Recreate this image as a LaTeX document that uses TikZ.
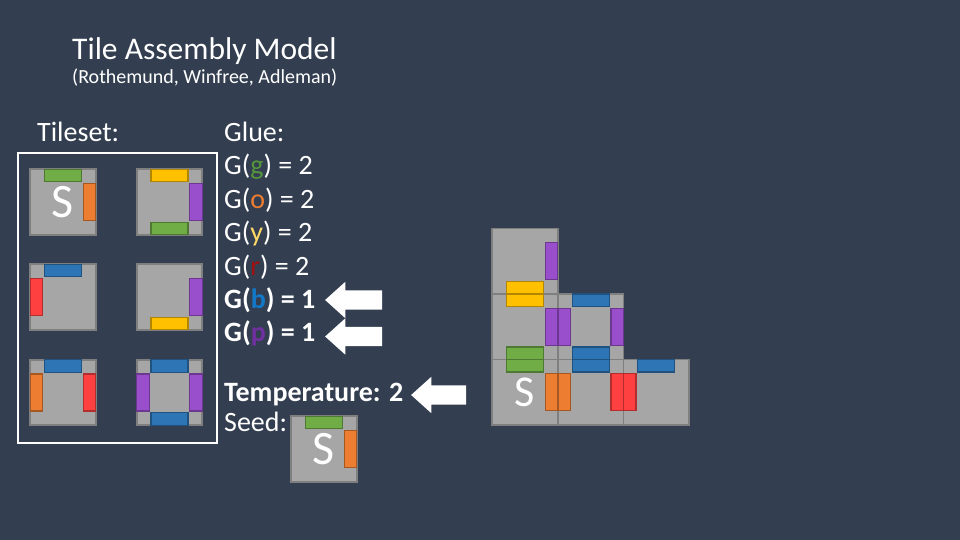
\documentclass[tikz,border=0pt]{standalone}
\usepackage{fontspec}
\setmainfont{Carlito}
\usetikzlibrary{shapes.arrows}
\definecolor{slatebg}{RGB}{51,63,80}
\definecolor{tilegray}{RGB}{166,166,166}
\definecolor{tileedge}{RGB}{127,127,127}
\definecolor{gluegreen}{RGB}{112,173,71}
\definecolor{glueorange}{RGB}{237,125,49}
\definecolor{glueyellow}{RGB}{255,192,0}
\definecolor{gluered}{RGB}{255,64,64}
\definecolor{glueblue}{RGB}{46,117,182}
\definecolor{gluepurple}{RGB}{153,79,204}
\definecolor{txtgreen}{RGB}{84,150,60}
\definecolor{txtorange}{RGB}{237,125,49}
\definecolor{txtyellow}{RGB}{255,217,102}
\definecolor{txtred}{RGB}{160,16,16}
\definecolor{txtblue}{RGB}{20,120,200}
\definecolor{txtpurple}{RGB}{112,48,160}
\begin{document}
\begin{tikzpicture}[x=1pt,y=-1pt,
  tile/.style={draw=tileedge,fill=tilegray,line width=1.8pt,minimum size=65.5pt,inner sep=0pt,outer sep=0pt,text=white,font=\fontsize{48}{48}\selectfont},
  glue/.style={draw=#1!70!black,fill=#1,line width=1.2pt,inner sep=0pt,outer sep=0pt},
  glueN/.style={glue=#1,minimum width=37pt,minimum height=12.5pt,anchor=north},
  glueS/.style={glue=#1,minimum width=37pt,minimum height=12.5pt,anchor=south},
  glueE/.style={glue=#1,minimum width=12.5pt,minimum height=37pt,anchor=east},
  glueW/.style={glue=#1,minimum width=12.5pt,minimum height=37pt,anchor=west},
  txt/.style={anchor=base west,inner sep=0pt,text=white,font=\fontsize{28}{33}\selectfont},
  hint/.style={single arrow,shape border rotate=180,fill=white,draw=none,minimum width=36pt,inner sep=9.5pt,single arrow head extend=8.5pt,single arrow tip angle=84}]
  \useasboundingbox[fill=slatebg] (0,0) rectangle (960,540);
  % Heading
  \node[txt,font=\fontsize{31.5}{37}\selectfont] (title) at (72,60) {Tile Assembly Model};
  \node[txt,font=\fontsize{20}{24}\selectfont] (authors) at (72,84) {(Rothemund, Winfree, Adleman)};
  % Tileset
  \node[txt] (tilesetlbl) at (37,142) {Tileset:};
  \node[draw=white,line width=1.5pt,minimum width=199pt,minimum height=290pt,inner sep=0pt] (tilesetbox) at (117.5,298) {};
  \node[tile] (ts1) at (63,202) {S};
  \node[tile] (ts2) at (169.5,202) {};
  \node[tile] (ts3) at (63,297) {};
  \node[tile] (ts4) at (169.5,297) {};
  \node[tile] (ts5) at (63,392.5) {};
  \node[tile] (ts6) at (169.5,392.5) {};
  \node[glueN=gluegreen] (ts1n) at (ts1.north) {};
  \node[glueE=glueorange] (ts1e) at (ts1.east) {};
  \node[glueN=glueyellow] (ts2n) at (ts2.north) {};
  \node[glueE=gluepurple] (ts2e) at (ts2.east) {};
  \node[glueS=gluegreen] (ts2s) at (ts2.south) {};
  \node[glueN=glueblue] (ts3n) at (ts3.north) {};
  \node[glueW=gluered] (ts3w) at (ts3.west) {};
  \node[glueE=gluepurple] (ts4e) at (ts4.east) {};
  \node[glueS=glueyellow] (ts4s) at (ts4.south) {};
  \node[glueN=glueblue] (ts5n) at (ts5.north) {};
  \node[glueW=glueorange] (ts5w) at (ts5.west) {};
  \node[glueE=gluered] (ts5e) at (ts5.east) {};
  \node[glueN=glueblue] (ts6n) at (ts6.north) {};
  \node[glueW=gluepurple] (ts6w) at (ts6.west) {};
  \node[glueE=gluepurple] (ts6e) at (ts6.east) {};
  \node[glueS=glueblue] (ts6s) at (ts6.south) {};
  % Glue strengths
  \node[txt] (gluelbl) at (224,141.7) {Glue:};
  \node[txt] (gg) at (224,175) {G(\textcolor{txtgreen}{g}) = 2};
  \node[txt] (go) at (224,208.3) {G(\textcolor{txtorange}{o}) = 2};
  \node[txt] (gy) at (224,241.7) {G(\textcolor{txtyellow}{y}) = 2};
  \node[txt] (gr) at (224,275) {G(\textcolor{txtred}{r}) = 2};
  \node[txt,font=\fontsize{28}{33}\selectfont\bfseries] (gb) at (224,308.3) {G(\textcolor{txtblue}{b}) = 1};
  \node[txt,font=\fontsize{28}{33}\selectfont\bfseries] (gp) at (224,341.7) {G(\textcolor{txtpurple}{p}) = 1};
  \node[hint,minimum height=57pt] (arrb) at (359,300) {};
  \node[hint,minimum height=57pt] (arrp) at (359,336.5) {};
  % Temperature and seed
  \node[txt,font=\fontsize{28}{33}\selectfont\bfseries] (temp) at (224,401.7) {Temperature: 2};
  \node[hint,minimum height=55pt] (arrt) at (444,395) {};
  \node[txt] (seedlbl) at (224,431.7) {Seed:};
  \node[tile] (seed) at (324,449) {\raisebox{-4pt}{S}};
  \node[glueN=gluegreen] (seedn) at (seed.north) {};
  \node[glueE=glueorange] (seede) at (seed.east) {};
  % Assembly
  \node[tile] (a11) at (525,261.25) {};
  \node[tile] (a12) at (525,326.75) {};
  \node[tile,font=\fontsize{44}{44}\selectfont] (a13) at (525,392.25) {S};
  \node[tile] (a22) at (590.75,326.75) {};
  \node[tile] (a23) at (590.75,392.25) {};
  \node[tile] (a33) at (656.25,392.25) {};
  \node[glueE=gluepurple] (a11e) at (a11.east) {};
  \node[glueS=glueyellow] (a11s) at (a11.south) {};
  \node[glueN=glueyellow] (a12n) at (a12.north) {};
  \node[glueE=gluepurple] (a12e) at (a12.east) {};
  \node[glueS=gluegreen] (a12s) at (a12.south) {};
  \node[glueN=gluegreen] (a13n) at (a13.north) {};
  \node[glueE=glueorange] (a13e) at (a13.east) {};
  \node[glueN=glueblue] (a22n) at (a22.north) {};
  \node[glueW=gluepurple] (a22w) at (a22.west) {};
  \node[glueE=gluepurple] (a22e) at (a22.east) {};
  \node[glueS=glueblue] (a22s) at (a22.south) {};
  \node[glueN=glueblue] (a23n) at (a23.north) {};
  \node[glueW=glueorange] (a23w) at (a23.west) {};
  \node[glueE=gluered] (a23e) at (a23.east) {};
  \node[glueN=glueblue] (a33n) at (a33.north) {};
  \node[glueW=gluered] (a33w) at (a33.west) {};
\end{tikzpicture}
\end{document}
